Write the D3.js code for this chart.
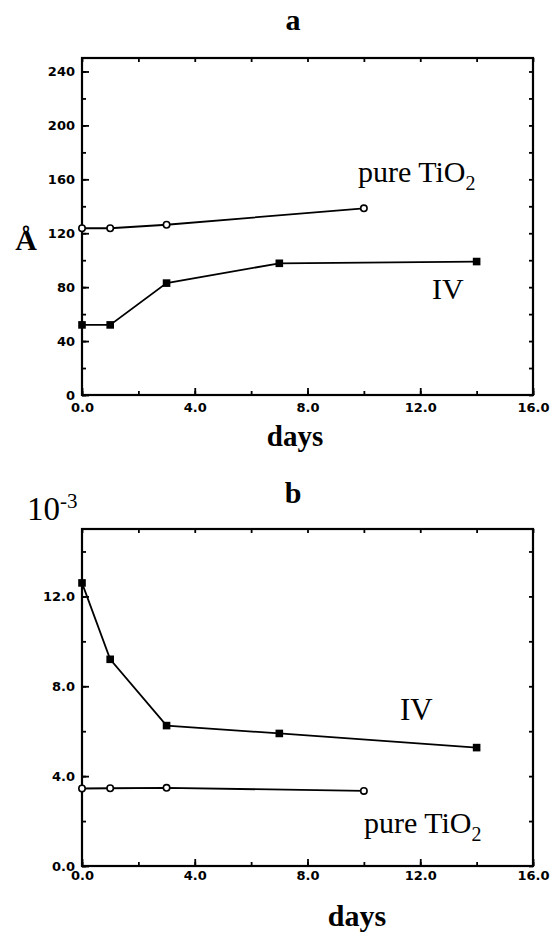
<!DOCTYPE html>
<html>
<head>
<meta charset="utf-8">
<script src="https://cdn.jsdelivr.net/npm/d3@7"></script>
<style>
  body { margin: 0; background: #fff; }
  .tick text { font-family: "DejaVu Sans", sans-serif; font-weight: bold; font-size: 13px; fill: #000; }
  .serif { font-family: "Liberation Serif", "Times New Roman", serif; fill: #000; }
</style>
</head>
<body>
<div id="chart"></div>
<script>
// x values (days)
let daysIV = [0, 1, 3, 7, 14];
let daysPure = [0, 1, 3, 10];

// panel a: crystallite size (Å)
let sizeIV = [52, 52, 83, 97.7, 99];
let sizePure = [123.7, 123.7, 126.3, 138.5];

// panel b: strain (10^-3)
let strainIV = [12.6, 9.2, 6.25, 5.9, 5.27];
let strainPure = [3.45, 3.46, 3.48, 3.34];

let xTicks = [0, 4, 8, 12, 16];
let xMinor = [0, 2, 4, 6, 8, 10, 12, 14, 16];
let yTicksA = [0, 40, 80, 120, 160, 200, 240];
let yMinorA = d3.range(0, 251, 20);
let yTicksB = [0, 4, 8, 12];
let yMinorB = d3.range(0, 15, 2);

let svg = d3.select("#chart").append("svg")
    .attr("width", 557)
    .attr("height", 935);

function drawPanel(opt) {
    let x = d3.scaleLinear().domain([0, 16]).range([82, 533]);
    let y = d3.scaleLinear().domain(opt.yDomain).range(opt.yRange);
    let g = svg.append("g");

    // minor ticks, inward on all four sides
    g.append("g").attr("transform", `translate(0,${opt.yRange[0]})`)
        .call(d3.axisBottom(x).tickValues(xMinor).tickSize(-4).tickFormat(""));
    g.append("g").attr("transform", `translate(0,${opt.yRange[1]})`)
        .call(d3.axisTop(x).tickValues(xMinor).tickSize(-4).tickFormat(""));
    g.append("g").attr("transform", "translate(82,0)")
        .call(d3.axisLeft(y).tickValues(opt.yMinor).tickSize(-4).tickFormat(""));
    g.append("g").attr("transform", "translate(533,0)")
        .call(d3.axisRight(y).tickValues(opt.yMinor).tickSize(-4).tickFormat(""));

    // major ticks with labels
    g.append("g").attr("transform", `translate(0,${opt.yRange[0]})`)
        .call(d3.axisBottom(x).tickValues(xTicks).tickSize(-7).tickPadding(opt.xPad).tickFormat(d3.format(".1f")));
    g.append("g").attr("transform", "translate(82,0)")
        .call(d3.axisLeft(y).tickValues(opt.yTicks).tickSize(-7).tickPadding(7).tickFormat(opt.yFormat));

    g.selectAll(".domain").remove();
    g.selectAll(".tick line").attr("stroke", "#000").attr("stroke-width", 1.8);

    // frame
    g.append("rect")
        .attr("x", 82).attr("y", opt.yRange[1])
        .attr("width", 451).attr("height", opt.yRange[0] - opt.yRange[1])
        .attr("fill", "none").attr("stroke", "#000").attr("stroke-width", 2.2);

    let line = d3.line().x(d => x(d[0])).y(d => y(d[1]));

    let iv = daysIV.map((d, i) => [d, opt.iv[i]]);
    let pure = daysPure.map((d, i) => [d, opt.pure[i]]);

    g.append("path").datum(iv).attr("d", line)
        .attr("fill", "none").attr("stroke", "#000").attr("stroke-width", 1.8);
    g.append("path").datum(pure).attr("d", line)
        .attr("fill", "none").attr("stroke", "#000").attr("stroke-width", 1.8);

    g.selectAll("rect.iv").data(iv).enter().append("rect")
        .attr("class", "iv")
        .attr("x", d => x(d[0]) - 3.8).attr("y", d => y(d[1]) - 3.8)
        .attr("width", 7.6).attr("height", 7.6)
        .attr("fill", "#000");

    g.selectAll("circle.pure").data(pure).enter().append("circle")
        .attr("class", "pure")
        .attr("cx", d => x(d[0])).attr("cy", d => y(d[1]))
        .attr("r", 3.2)
        .attr("fill", "#fff").attr("stroke", "#000").attr("stroke-width", 1.6);
}

drawPanel({
    yDomain: [0, 250], yRange: [395, 58],
    yTicks: yTicksA, yMinor: yMinorA, yFormat: d3.format("d"),
    xPad: 8, iv: sizeIV, pure: sizePure
});

drawPanel({
    yDomain: [0, 15], yRange: [866, 529],
    yTicks: yTicksB, yMinor: yMinorB, yFormat: d3.format(".1f"),
    xPad: 5, iv: strainIV, pure: strainPure
});

// labels
function pureLabel(xPos, yPos) {
    let t = svg.append("text").attr("class", "serif")
        .attr("x", xPos).attr("y", yPos)
        .style("font-size", "30px");
    t.append("tspan").text("pure TiO");
    t.append("tspan").attr("dy", 8).style("font-size", "20px").text("2");
}

svg.append("text").attr("class", "serif")
    .attr("x", 293).attr("y", 30).attr("text-anchor", "middle")
    .style("font-size", "30px").style("font-weight", "bold").text("a");

svg.append("text").attr("class", "serif")
    .attr("x", 26).attr("y", 250).attr("text-anchor", "middle")
    .style("font-size", "30px").style("font-weight", "bold").text("Å");

pureLabel(358, 182);
svg.append("text").attr("class", "serif")
    .attr("x", 432).attr("y", 299)
    .style("font-size", "30px").text("IV");

svg.append("text").attr("class", "serif")
    .attr("x", 295).attr("y", 446).attr("text-anchor", "middle")
    .style("font-size", "29px").style("font-weight", "bold").text("days");

svg.append("text").attr("class", "serif")
    .attr("x", 293).attr("y", 503).attr("text-anchor", "middle")
    .style("font-size", "30px").style("font-weight", "bold").text("b");

let exp = svg.append("text").attr("class", "serif")
    .attr("x", 27).attr("y", 520)
    .style("font-size", "33px");
exp.append("tspan").text("10");
exp.append("tspan").attr("dy", -12).style("font-size", "21px").text("-3");

svg.append("text").attr("class", "serif")
    .attr("x", 400).attr("y", 720)
    .style("font-size", "31px").text("IV");

pureLabel(364, 833);

svg.append("text").attr("class", "serif")
    .attr("x", 357).attr("y", 926).attr("text-anchor", "middle")
    .style("font-size", "30px").style("font-weight", "bold").text("days");
</script>
</body>
</html>
